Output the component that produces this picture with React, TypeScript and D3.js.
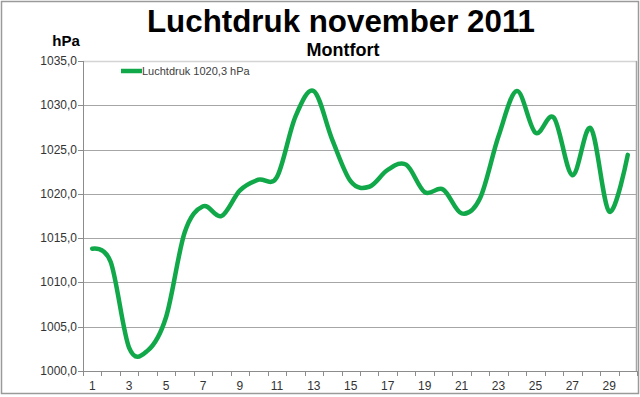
import React from 'react';
import * as d3 from 'd3';

// luchtdruk per dag (hPa)
const days = d3.range(1, 31);
const pressure = [
  1013.8, 1012.3, 1002.6, 1002.3, 1006.1, 1015.6, 1018.6, 1017.5, 1020.4, 1021.6,
  1021.9, 1028.7, 1031.6, 1026.1, 1021.4, 1020.8, 1022.7, 1023.3, 1020.2, 1020.5,
  1017.8, 1019.5, 1026.5, 1031.6, 1026.9, 1028.6, 1022.1, 1027.4, 1018.0, 1024.4,
];
const yTicks = [1000, 1005, 1010, 1015, 1020, 1025, 1030, 1035];
const legendLabel = 'Luchtdruk 1020,3 hPa';

const W = 640;
const H = 397;
const margin = { top: 61, right: 3, bottom: 26, left: 83 };
const green = '#11a84a';
const fmt = (v: number) => v.toFixed(1).replace('.', ',');

export default function App() {
  const x = d3.scaleBand<number>()
    .domain(days)
    .range([margin.left, W - margin.right])
    .paddingInner(0)
    .paddingOuter(0);
  const y = d3.scaleLinear()
    .domain([1000, 1035])
    .range([H - margin.bottom, margin.top]);

  const cx = (d: number) => (x(d) as number) + x.bandwidth() / 2;
  const line = d3.line<number>()
    .x((_, i) => cx(days[i]))
    .y(v => y(v))
    .curve(d3.curveCatmullRom.alpha(0));

  const x0 = margin.left;
  const x1 = W - margin.right;
  const yBottom = y(1000);
  const tickXs = [...days.map(d => x(d) as number), x1];

  return (
    <svg width={W} height={H} style={{ position: 'absolute', left: 0, top: 0, fontFamily: 'Liberation Sans, Arial, sans-serif' }}>
      <rect x={0} y={0} width={W} height={H} fill="#fff" />
      <rect x={1.5} y={1.5} width={W - 3} height={H - 5} fill="none" stroke="#9a9a9a" strokeWidth={1.5} />

      {/* titels */}
      <text x={341} y={32} textAnchor="middle" fontSize={31} fontWeight="bold" textLength={388} lengthAdjust="spacingAndGlyphs" fill="#000">
        Luchtdruk november 2011
      </text>
      <text x={343} y={56} textAnchor="middle" fontSize={18} fontWeight="bold" fill="#000">Montfort</text>
      <text x={66} y={46} textAnchor="middle" fontSize={15} fontWeight="bold" fill="#000">hPa</text>

      {/* rasterlijnen */}
      {yTicks.map(t => (
        <g key={t}>
          <line x1={x0} x2={x1} y1={Math.round(y(t)) + 0.5} y2={Math.round(y(t)) + 0.5}
            stroke={t === 1035 ? '#d4d4d4' : '#a6a6a6'} strokeWidth={t === 1035 ? 1.5 : 1} />
          <line x1={x0 - 5} x2={x0} y1={Math.round(y(t)) + 0.5} y2={Math.round(y(t)) + 0.5} stroke="#8c8c8c" />
          <text x={x0 - 6} y={y(t) + 4} textAnchor="end" fontSize={12} fill="#333">{fmt(t)}</text>
        </g>
      ))}
      <line x1={x1 - 0.5} x2={x1 - 0.5} y1={margin.top} y2={yBottom} stroke="#a6a6a6" strokeWidth={1.5} />

      {/* assen */}
      <line x1={x0 + 0.5} x2={x0 + 0.5} y1={margin.top} y2={yBottom} stroke="#8c8c8c" />
      <line x1={x0} x2={x1} y1={Math.round(yBottom) + 0.5} y2={Math.round(yBottom) + 0.5} stroke="#8c8c8c" />
      {tickXs.map((tx, i) => (
        <line key={i} x1={Math.round(tx) + 0.5} x2={Math.round(tx) + 0.5} y1={yBottom} y2={yBottom + 5} stroke="#8c8c8c" />
      ))}
      {days.filter(d => d % 2 === 1).map(d => (
        <text key={d} x={cx(d)} y={yBottom + 19} textAnchor="middle" fontSize={12} fill="#333">{d}</text>
      ))}

      {/* legenda */}
      <line x1={121} x2={142} y1={71} y2={71} stroke={green} strokeWidth={4.5} />
      <text x={142} y={75} fontSize={11} fill="#404040">{legendLabel}</text>

      {/* lijn */}
      <path d={line(pressure) ?? ''} fill="none" stroke={green} strokeWidth={4.5} strokeLinejoin="round" strokeLinecap="round" />
    </svg>
  );
}
